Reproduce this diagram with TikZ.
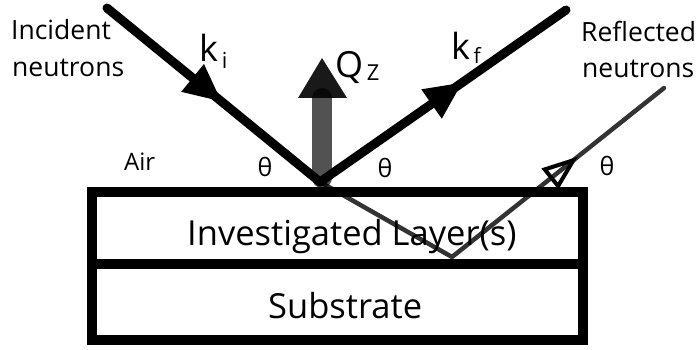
\documentclass[tikz,border=0pt]{standalone}
\usepackage{fontspec}
\setmainfont{Open Sans}
\usetikzlibrary{arrows.meta,decorations.markings}

\newcommand{\fsz}[1]{\fontsize{#1}{#1}\selectfont}

\tikzset{
  lbl/.style={inner sep=0pt, anchor=base west},
  beam/.style={line width=9pt, line cap=round, line join=round, black},
  thinbeam/.style={line width=4.5pt, line cap=round, line join=miter, black!80},
  layerbox/.style={line width=10pt, black},
}

\begin{document}
\begin{tikzpicture}[x=1pt, y=-1pt]
  \useasboundingbox (0,0) rectangle (696,350);

  % key points
  \coordinate (src) at (107,8);
  \coordinate (V) at (320,182);
  \coordinate (out) at (566,10);
  \coordinate (B) at (452,257);
  \coordinate (E) at (664,88);

  % refracted beam through the layer
  \draw[thinbeam, postaction={decorate},
    decoration={markings, mark=at position 0.74 with
      {\arrow{Triangle[open, length=36pt, width=26pt, line width=4pt, color=black]}}}]
    (V) -- (B) -- (E);

  % sample: layer and substrate
  \draw[layerbox] (91.5,192) rectangle (583,340);
  \draw[layerbox] (91.5,264) -- (583,264);

  % incident and reflected beams
  \draw[beam, postaction={decorate},
    decoration={markings, mark=at position 0.54 with
      {\arrow{Triangle[length=38pt, width=33pt]}}}]
    (src) -- (V);
  \draw[beam, postaction={decorate},
    decoration={markings, mark=at position 0.58 with
      {\arrow{Triangle[length=38pt, width=33pt]}}}]
    (V) -- (out);

  % momentum transfer arrow
  \draw[line width=20pt, black, opacity=0.68, line cap=round] (322,178) -- (322,98);
  \fill[black, opacity=0.9] (298,98) -- (347,98) -- (322,58) -- cycle;

  % labels
  \node[lbl] (inc1) at (11,40) {\fsz{26.5}Incident};
  \node[lbl] (inc2) at (12,77) {\fsz{26.5}neutrons};
  \node[lbl] (ref1) at (581,42) {\fsz{26.5}Reflected};
  \node[lbl] (ref2) at (582,78) {\fsz{26.5}neutrons};
  \node[lbl] (ki) at (199,62) {\fsz{36}k\raisebox{-7pt}{\fsz{22}\,i}};
  \node[lbl] (kf) at (451,60) {\fsz{36}k\raisebox{-4pt}{\fsz{21}\,f}};
  \node[lbl] (qz) at (335,78) {\fsz{36}Q\raisebox{-3pt}{\fsz{22}\,Z}};
  \node[lbl] (air) at (124,170) {\fsz{24}Air};
  \node (th1) at (265,167) {\fsz{25}θ};
  \node (th2) at (385,168) {\fsz{25}θ};
  \node (th3) at (607,166) {\fsz{25}θ};
  \node[lbl] (layer) at (187,245) {\fsz{34.5}Investigated Layer(s)};
  \node[lbl] (sub) at (268,318) {\fsz{34.5}Substrate};
\end{tikzpicture}
\end{document}
